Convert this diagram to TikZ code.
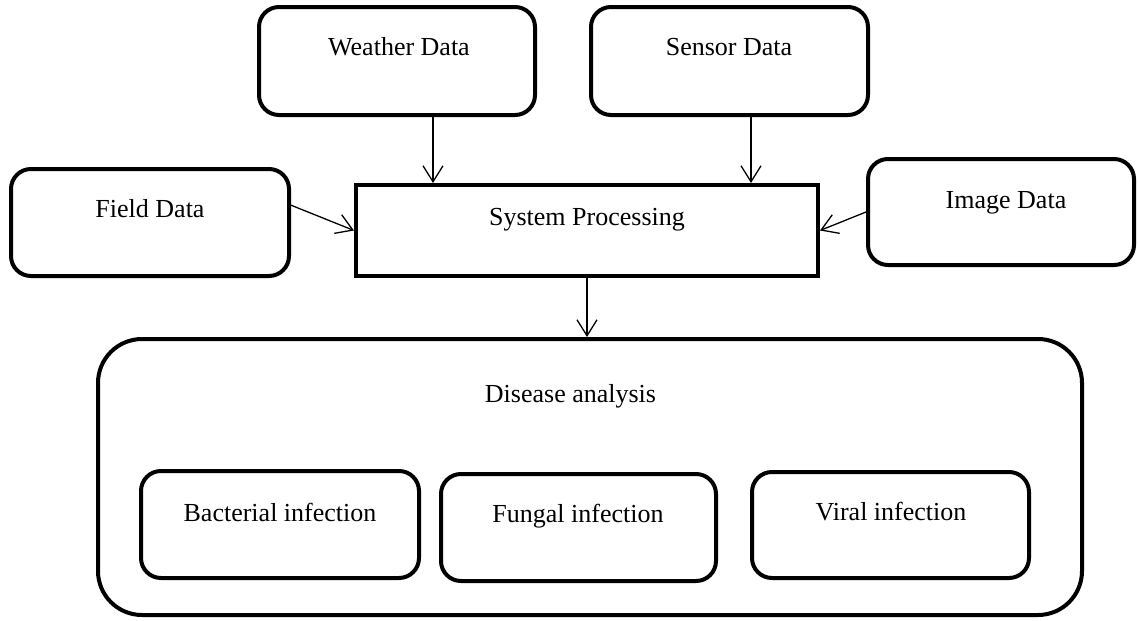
\documentclass[tikz,border=0pt]{standalone}
\usepackage{fontspec}
\setmainfont{Liberation Serif}
\usetikzlibrary{arrows.meta}
\begin{document}
\begin{tikzpicture}[x=1pt,y=-1pt,
  rbox/.style={draw=black,line width=4pt,rounded corners=20pt,inner sep=0pt,fill=white},
  sbox/.style={draw=black,line width=4pt,inner sep=0pt},
  bigbox/.style={draw=black,line width=4pt,rounded corners=44pt,inner sep=0pt},
  txt/.style={anchor=base,inner sep=0pt,font=\fontsize{26}{30}\selectfont},
  arr/.style={line width=1.3pt,-{Straight Barb[length=16pt,width=20pt,line width=1.3pt]}}]
\useasboundingbox (0,0) rectangle (1138,621);
% boxes
\node[rbox,minimum width=276pt,minimum height=108pt] (wd) at (397,61) {};
\node[rbox,minimum width=277pt,minimum height=108pt] (sd) at (729.5,61) {};
\node[rbox,minimum width=278pt,minimum height=107pt] (fd) at (150,222.5) {};
\node[sbox,minimum width=462pt,minimum height=91pt] (sp) at (587,230.5) {};
\node[rbox,minimum width=266pt,minimum height=106pt] (im) at (1001,212) {};
\node[bigbox,minimum width=984pt,minimum height=276pt] (ds) at (590,477) {};
\node[rbox,minimum width=278pt,minimum height=107pt] (bi) at (280,524.5) {};
\node[rbox,minimum width=275pt,minimum height=107pt] (fi) at (578.5,527.5) {};
\node[rbox,minimum width=277pt,minimum height=106pt] (vi) at (890.5,525) {};
% texts
\node[txt] (wdt) at (399,55) {Weather Data};
\node[txt] (sdt) at (729,55) {Sensor Data};
\node[txt] (fdt) at (150,217) {Field Data};
\node[txt] (spt) at (587,225) {System Processing};
\node[txt] (imt) at (1006,208) {Image Data};
\node[txt] (dst) at (570.5,402) {Disease analysis};
\node[txt] (bit) at (280,521) {Bacterial infection};
\node[txt] (fit) at (578,522) {Fungal infection};
\node[txt] (vit) at (891,520) {Viral infection};
% connectors
\coordinate (xw) at (433,0);
\coordinate (xs) at (751,0);
\draw[arr] (wd.south -| xw) -- (sp.north -| xw);
\draw[arr] (sd.south -| xs) -- (sp.north -| xs);
\draw[arr] (fd.7) -- (sp.west);
\draw[arr] (im.west) -- (sp.east);
\draw[arr] (sp.south) -- (ds.north -| sp.south);
\end{tikzpicture}
\end{document}
